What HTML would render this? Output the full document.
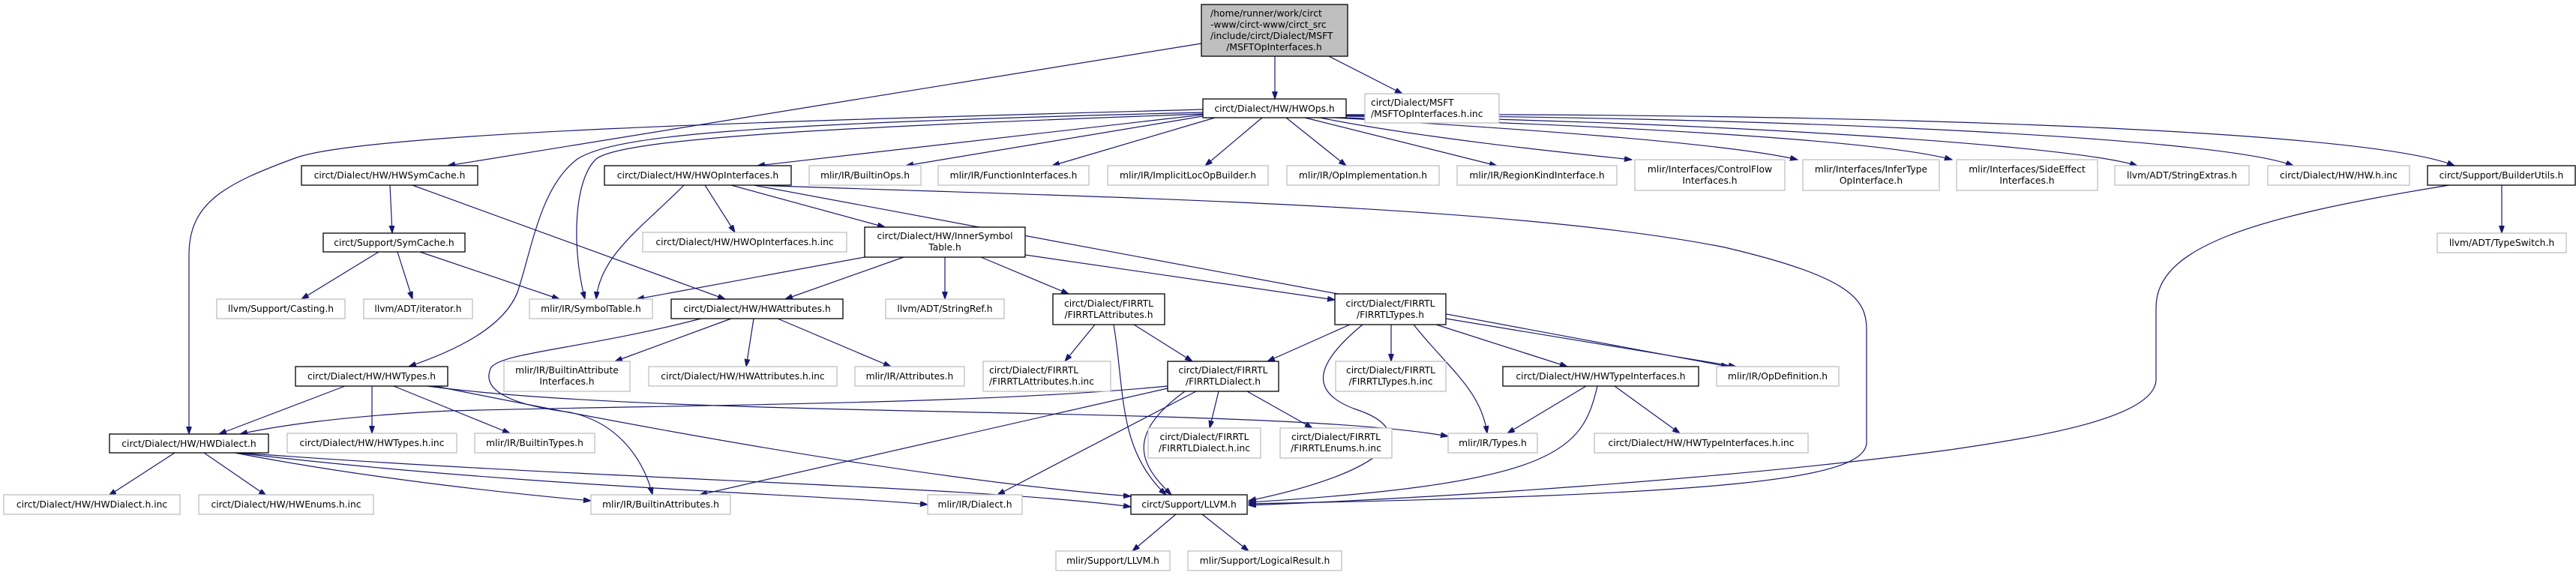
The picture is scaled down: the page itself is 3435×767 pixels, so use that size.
<!DOCTYPE html>
<html><head><meta charset="utf-8"><style>
html,body{margin:0;padding:0;background:#fff;}
svg{display:block;}
text{font-family:"DejaVu Sans","Liberation Sans",sans-serif;font-size:12.3px;fill:#000;}
.e{fill:none;stroke:#191970;stroke-width:1.2;marker-end:url(#a);}
.b{fill:#fff;stroke:#000;stroke-width:1.3;}
.g{fill:#fff;stroke:#bfbfbf;stroke-width:1.3;}
</style></head><body>
<svg width="3435" height="767" viewBox="0 0 3435 767" xmlns="http://www.w3.org/2000/svg">
<defs><marker id="a" markerUnits="userSpaceOnUse" markerWidth="11" markerHeight="8" refX="10" refY="3.5" orient="auto"><path d="M0,0 L10,3.5 L0,7 z" fill="#191970" stroke="#191970"/></marker></defs>
<!-- edges -->
<path class="e" d="M1700,75 L1700,132"/>
<path class="e" d="M1772,75 L1870,125"/>
<path class="e" d="M1602,58 L597,221"/>
<path class="e" d="M1604,146 C1100,160 500,175 396,210 C300,245 252,270 252,340 L252,579"/>
<path class="e" d="M1604,150 C1000,165 820,180 770,212 C720,250 710,330 690,390 C670,440 600,470 545,489"/>
<path class="e" d="M1604,152 C1100,170 830,185 795,212 C765,240 762,330 780,399"/>
<path class="e" d="M1604,153 L1010,221"/>
<path class="e" d="M1604,155 L1208,221"/>
<path class="e" d="M1620,157 L1403,221"/>
<path class="e" d="M1683,157 L1607,221"/>
<path class="e" d="M1715,157 L1795,221"/>
<path class="e" d="M1740,157 L1996,221"/>
<path class="e" d="M1760,157 C1900,185 2100,205 2176,213"/>
<path class="e" d="M1780,157 C2000,170 2300,190 2397,213"/>
<path class="e" d="M1790,157 C2100,165 2500,185 2603,213"/>
<path class="e" d="M1795,155 C2200,160 2750,190 2850,221"/>
<path class="e" d="M1795,154 C2300,155 2950,180 3058,221"/>
<path class="e" d="M1795,153 C2400,150 3150,170 3273,221"/>
<path class="e" d="M1010,247 C1400,262 2000,270 2300,330 C2470,370 2489,400 2489,440 L2489,590 C2489,640 2300,660 1665,672"/>
<path class="e" d="M3266,247 C3000,290 2875,330 2875,410 L2875,506 C2875,560 2700,585 2600,600 C2300,640 1900,665 1665,674"/>
<path class="e" d="M912,247 C860,300 800,340 795,399"/>
<path class="e" d="M940,247 L980,310"/>
<path class="e" d="M975,247 L1180,303"/>
<path class="e" d="M1005,247 L2305,489"/>
<path class="e" d="M520,247 L523,311"/>
<path class="e" d="M550,247 L967,399"/>
<path class="e" d="M505,336 L402,399"/>
<path class="e" d="M530,336 L550,399"/>
<path class="e" d="M560,336 L746,399"/>
<path class="e" d="M1153,343 L849,399"/>
<path class="e" d="M1205,343 L1047,399"/>
<path class="e" d="M1260,343 L1260,399"/>
<path class="e" d="M1308,343 L1425,392"/>
<path class="e" d="M1367,340 L1780,400"/>
<path class="e" d="M975,425 L820,482"/>
<path class="e" d="M1005,425 L995,489"/>
<path class="e" d="M1037,425 L1188,489"/>
<path class="e" d="M935,425 C780,465 670,470 655,490 C640,520 680,540 760,550 C830,565 860,620 870,660"/>
<path class="e" d="M1557,515 C1300,540 900,540 600,548 C450,555 360,570 320,579"/>
<path class="e" d="M460,515 L292,579"/>
<path class="e" d="M496,515 L496,578"/>
<path class="e" d="M525,515 L680,578"/>
<path class="e" d="M570,515 C900,560 1700,540 1931,582"/>
<path class="e" d="M580,515 C1000,600 1300,645 1508,662"/>
<path class="e" d="M233,604 L145,661"/>
<path class="e" d="M272,604 L355,661"/>
<path class="e" d="M313,604 C500,640 700,660 788,668"/>
<path class="e" d="M315,604 C700,650 1100,660 1237,673"/>
<path class="e" d="M320,604 C800,640 1300,648 1508,676"/>
<path class="e" d="M1460,433 L1420,482"/>
<path class="e" d="M1512,433 L1590,482"/>
<path class="e" d="M1485,433 C1500,520 1490,600 1555,660"/>
<path class="e" d="M1557,518 L933,660"/>
<path class="e" d="M1595,522 L1330,660"/>
<path class="e" d="M1580,522 C1500,580 1520,620 1562,660"/>
<path class="e" d="M1625,522 L1613,571"/>
<path class="e" d="M1663,522 L1750,571"/>
<path class="e" d="M1800,433 L1690,482"/>
<path class="e" d="M1855,433 L1855,482"/>
<path class="e" d="M1885,433 C1930,490 1975,520 1983,578"/>
<path class="e" d="M1915,433 L2090,489"/>
<path class="e" d="M1928,425 L2315,489"/>
<path class="e" d="M1817,433 C1760,480 1740,520 1805,545 C1900,575 1850,630 1665,668"/>
<path class="e" d="M2115,515 L2010,578"/>
<path class="e" d="M2153,515 L2240,578"/>
<path class="e" d="M2130,515 C2110,600 2080,645 1665,670"/>
<path class="e" d="M1568,686 L1510,735"/>
<path class="e" d="M1603,686 L1665,735"/>
<path class="e" d="M3336,247 L3336,311"/>
<!-- nodes -->
<rect x="1602" y="6" width="195" height="69" fill="#bfbfbf" stroke="#000" stroke-width="1.3"/>
<text x="1602" y="0" text-anchor="start"><tspan x="1614" y="22">/home/runner/work/circt</tspan><tspan x="1614" y="37">-www/circt-www/circt_src</tspan><tspan x="1614" y="52">/include/circt/Dialect/MSFT</tspan><tspan x="1699" y="67" text-anchor="middle">/MSFTOpInterfaces.h</tspan></text>
<g text-anchor="middle">
<rect class="b" x="1604" y="132" width="191" height="25"/><text x="1699.5" y="149">circt/Dialect/HW/HWOps.h</text>
<rect class="g" x="1820" y="125" width="179" height="39"/><text x="1828" y="141" text-anchor="start">circt/Dialect/MSFT</text><text x="1828" y="156" text-anchor="start">/MSFTOpInterfaces.h.inc</text>
<rect class="b" x="402" y="221" width="235" height="26"/><text x="519.5" y="238">circt/Dialect/HW/HWSymCache.h</text>
<rect class="b" x="806" y="221" width="249" height="26"/><text x="930.5" y="238">circt/Dialect/HW/HWOpInterfaces.h</text>
<rect class="g" x="1079" y="221" width="149" height="26"/><text x="1153.5" y="238">mlir/IR/BuiltinOps.h</text>
<rect class="g" x="1251" y="221" width="201" height="26"/><text x="1351.5" y="238">mlir/IR/FunctionInterfaces.h</text>
<rect class="g" x="1477" y="221" width="214" height="26"/><text x="1584" y="238">mlir/IR/ImplicitLocOpBuilder.h</text>
<rect class="g" x="1716" y="221" width="203" height="26"/><text x="1817.5" y="238">mlir/IR/OpImplementation.h</text>
<rect class="g" x="1943" y="221" width="213" height="26"/><text x="2049.5" y="238">mlir/IR/RegionKindInterface.h</text>
<rect class="g" x="2180" y="213" width="200" height="41"/><text x="2280" y="230">mlir/Interfaces/ControlFlow</text><text x="2280" y="245">Interfaces.h</text>
<rect class="g" x="2404" y="213" width="182" height="41"/><text x="2495" y="230">mlir/Interfaces/InferType</text><text x="2495" y="245">OpInterface.h</text>
<rect class="g" x="2609" y="213" width="188" height="41"/><text x="2703" y="230">mlir/Interfaces/SideEffect</text><text x="2703" y="245">Interfaces.h</text>
<rect class="g" x="2820" y="221" width="179" height="26"/><text x="2909.5" y="238">llvm/ADT/StringExtras.h</text>
<rect class="g" x="3024" y="221" width="189" height="26"/><text x="3118.5" y="238">circt/Dialect/HW/HW.h.inc</text>
<rect class="b" x="3237" y="221" width="197" height="26"/><text x="3335.5" y="238">circt/Support/BuilderUtils.h</text>
<rect class="b" x="431" y="311" width="189" height="25"/><text x="525.5" y="328">circt/Support/SymCache.h</text>
<rect class="g" x="857" y="310" width="272" height="26"/><text x="993" y="327">circt/Dialect/HW/HWOpInterfaces.h.inc</text>
<rect class="b" x="1153" y="303" width="214" height="40"/><text x="1260" y="319">circt/Dialect/HW/InnerSymbol</text><text x="1260" y="334">Table.h</text>
<rect class="g" x="3250" y="311" width="172" height="26"/><text x="3336" y="328">llvm/ADT/TypeSwitch.h</text>
<rect class="g" x="289" y="399" width="171" height="26"/><text x="374.5" y="416">llvm/Support/Casting.h</text>
<rect class="g" x="485" y="399" width="145" height="26"/><text x="557.5" y="416">llvm/ADT/iterator.h</text>
<rect class="g" x="706" y="399" width="164" height="26"/><text x="788" y="416">mlir/IR/SymbolTable.h</text>
<rect class="b" x="895" y="399" width="229" height="26"/><text x="1009.5" y="416">circt/Dialect/HW/HWAttributes.h</text>
<rect class="g" x="1181" y="399" width="158" height="26"/><text x="1260" y="416">llvm/ADT/StringRef.h</text>
<rect class="b" x="1404" y="392" width="149" height="41"/><text x="1478.5" y="409">circt/Dialect/FIRRTL</text><text x="1478.5" y="424">/FIRRTLAttributes.h</text>
<rect class="b" x="1780" y="392" width="148" height="41"/><text x="1854" y="409">circt/Dialect/FIRRTL</text><text x="1854" y="424">/FIRRTLTypes.h</text>
<rect class="g" x="672" y="482" width="168" height="40"/><text x="756" y="498">mlir/IR/BuiltinAttribute</text><text x="756" y="513">Interfaces.h</text>
<rect class="b" x="394" y="489" width="203" height="26"/><text x="495.5" y="506">circt/Dialect/HW/HWTypes.h</text>
<rect class="g" x="865" y="489" width="251" height="26"/><text x="990.5" y="506">circt/Dialect/HW/HWAttributes.h.inc</text>
<rect class="g" x="1140" y="489" width="146" height="26"/><text x="1213" y="506">mlir/IR/Attributes.h</text>
<rect class="g" x="1311" y="482" width="170" height="40"/><text x="1319" y="498" text-anchor="start">circt/Dialect/FIRRTL</text><text x="1319" y="513" text-anchor="start">/FIRRTLAttributes.h.inc</text>
<rect class="b" x="1557" y="482" width="148" height="40"/><text x="1631" y="498">circt/Dialect/FIRRTL</text><text x="1631" y="513">/FIRRTLDialect.h</text>
<rect class="g" x="1781" y="482" width="147" height="40"/><text x="1854.5" y="498">circt/Dialect/FIRRTL</text><text x="1854.5" y="513">/FIRRTLTypes.h.inc</text>
<rect class="b" x="2004" y="489" width="261" height="26"/><text x="2134.5" y="506">circt/Dialect/HW/HWTypeInterfaces.h</text>
<rect class="g" x="2289" y="489" width="163" height="26"/><text x="2370.5" y="506">mlir/IR/OpDefinition.h</text>
<rect class="b" x="146" y="579" width="212" height="25"/><text x="252" y="596">circt/Dialect/HW/HWDialect.h</text>
<rect class="g" x="383" y="578" width="226" height="26"/><text x="496" y="595">circt/Dialect/HW/HWTypes.h.inc</text>
<rect class="g" x="633" y="578" width="160" height="26"/><text x="713" y="595">mlir/IR/BuiltinTypes.h</text>
<rect class="g" x="1531" y="571" width="150" height="40"/><text x="1606" y="587">circt/Dialect/FIRRTL</text><text x="1606" y="602">/FIRRTLDialect.h.inc</text>
<rect class="g" x="1707" y="571" width="149" height="40"/><text x="1781.5" y="587">circt/Dialect/FIRRTL</text><text x="1781.5" y="602">/FIRRTLEnums.h.inc</text>
<rect class="g" x="1931" y="578" width="119" height="26"/><text x="1990.5" y="595">mlir/IR/Types.h</text>
<rect class="g" x="2126" y="578" width="285" height="26"/><text x="2268.5" y="595">circt/Dialect/HW/HWTypeInterfaces.h.inc</text>
<rect class="g" x="5" y="660" width="235" height="26"/><text x="122.5" y="677">circt/Dialect/HW/HWDialect.h.inc</text>
<rect class="g" x="265" y="660" width="233" height="26"/><text x="381.5" y="677">circt/Dialect/HW/HWEnums.h.inc</text>
<rect class="g" x="788" y="660" width="186" height="26"/><text x="881" y="677">mlir/IR/BuiltinAttributes.h</text>
<rect class="g" x="1237" y="660" width="126" height="26"/><text x="1300" y="677">mlir/IR/Dialect.h</text>
<rect class="b" x="1508" y="660" width="155" height="26"/><text x="1585.5" y="677">circt/Support/LLVM.h</text>
<rect class="g" x="1408" y="735" width="152" height="26"/><text x="1484" y="752">mlir/Support/LLVM.h</text>
<rect class="g" x="1584" y="735" width="205" height="26"/><text x="1686.5" y="752">mlir/Support/LogicalResult.h</text>
</g>
</svg>
</body></html>
